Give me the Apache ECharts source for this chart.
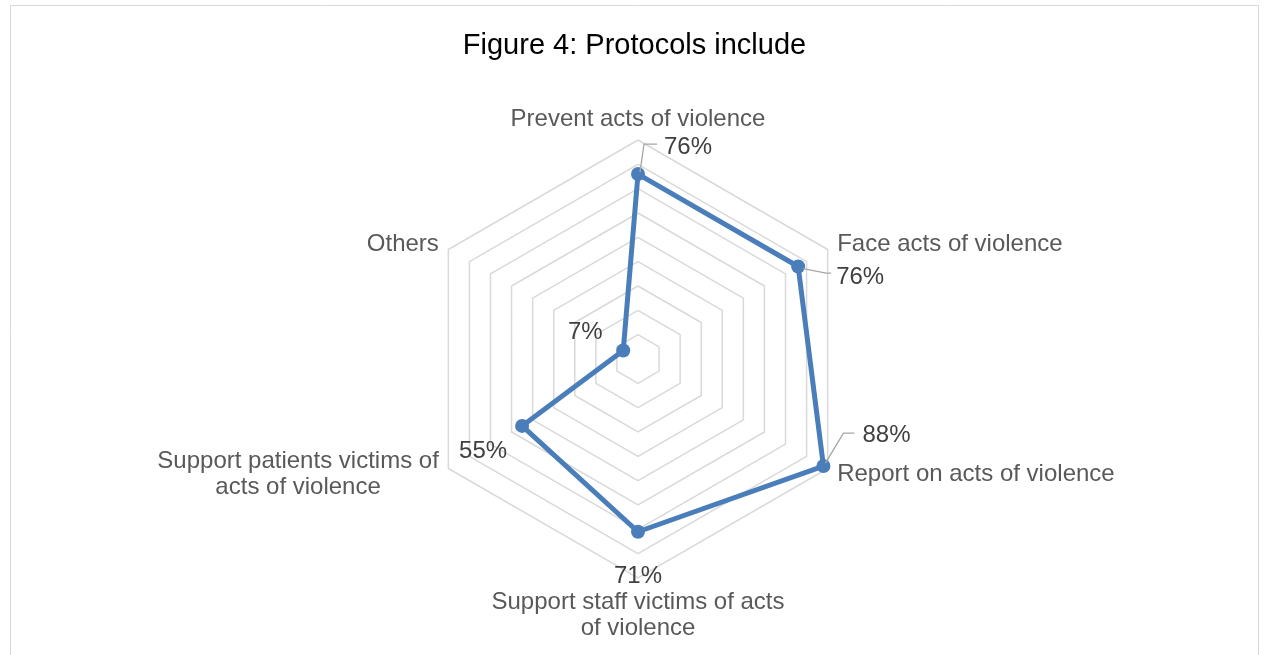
<!DOCTYPE html>
<html>
<head>
<meta charset="utf-8">
<script src="https://cdn.jsdelivr.net/npm/echarts@6/dist/echarts.min.js"></script>
<style>
  html, body { margin: 0; padding: 0; background: #ffffff; }
  #chart { width: 1269px; height: 655px; }
</style>
</head>
<body>
<div id="chart"></div>
<script>
// Categories listed clockwise from the top spoke
const categories = [
  'Prevent acts of violence',
  'Face acts of violence',
  'Report on acts of violence',
  'Support staff victims of acts\nof violence',
  'Support patients victims of\nacts of violence',
  'Others'
];
// Share of protocols (%) that include each item
const values = [76, 76, 88, 71, 55, 7];
const valueLabels = ['76%', '76%', '88%', '71%', '55%', '7%'];
const axisMax = 90;
const ringCount = 9;
const titleText = 'Figure 4: Protocols include';

const FONT = '"Liberation Sans", Arial, Helvetica, sans-serif';

// ECharts lays radar indicators out counter-clockwise, so keep the first one
// on top and reverse the rest to read clockwise.
const order = [0].concat(categories.map((_, i) => i).slice(1).reverse());

// Value-label placement relative to its marker: offset, alignment, leader path
const labelStyle = [
  { dx: 26, dy: -27, align: 'left',   leader: [[2, -2], [6, -30], [19, -30]] },
  { dx: 38, dy: 11,  align: 'left',   leader: [[5, 2], [28, 6.5], [33, 6.5]] },
  { dx: 39, dy: -31, align: 'left',   leader: [[2, -3], [20, -33], [31, -33]] },
  { dx: 0,  dy: 45,  align: 'center', leader: null },
  { dx: -39, dy: 25, align: 'center', leader: null },
  { dx: -38, dy: -18, align: 'center', leader: null }
];

const chart = echarts.init(document.getElementById('chart'), null, { renderer: 'canvas' });

chart.setOption({
  animation: false,
  backgroundColor: '#ffffff',
  title: {
    text: titleText,
    left: 'center',
    top: 31,
    padding: 0,
    textStyle: { color: '#000000', fontSize: 29, fontWeight: 'normal', fontFamily: FONT }
  },
  radar: {
    center: [638, 359],
    radius: 219,
    startAngle: 90,
    splitNumber: ringCount,
    shape: 'polygon',
    nameGap: 11,
    indicator: order.map(i => ({ name: categories[i], min: 0, max: axisMax })),
    axisName: {
      color: '#595959',
      fontSize: 24,
      fontFamily: FONT,
      lineHeight: 26,
      // single-line top name sits a little closer to its vertex
      formatter: (name, ind) => {
        const key = name === categories[0] ? 't' : 'c';
        return name.split('\n').map(s => '{' + key + '|' + s + '}').join('\n');
      },
      rich: {
        c: { align: 'center', color: '#595959', fontSize: 24, fontFamily: FONT, lineHeight: 26 },
        t: { align: 'center', color: '#595959', fontSize: 24, fontFamily: FONT, lineHeight: 20 }
      }
    },
    splitLine: { lineStyle: { color: '#d9d9d9', width: 1.5 } },
    splitArea: { show: false },
    axisLine: { show: false },
    axisTick: { show: false },
    axisLabel: { show: false }
  },
  series: [{
    type: 'radar',
    symbol: 'circle',
    symbolSize: 14,
    lineStyle: { color: '#4a7ebb', width: 5 },
    itemStyle: { color: '#4a7ebb' },
    data: [{ value: order.map(i => values[i]), name: 'Protocols include' }]
  }]
});

// Value labels and leader lines, anchored to the markers via the radar's own scale
const radarCS = chart.getModel().getComponent('radar', 0).coordinateSystem;
const graphics = [{
  type: 'rect',
  silent: true,
  shape: { x: 10.5, y: 5.5, width: 1248, height: 720 },
  style: { fill: 'none', stroke: '#d9d9d9', lineWidth: 1 },
  z: -10
}];

categories.forEach((_, i) => {
  const pos = order.indexOf(i);
  const p = radarCS.dataToPoint(values[i], pos);
  const ls = labelStyle[i];
  if (ls.leader) {
    graphics.push({
      type: 'polyline',
      silent: true,
      shape: { points: ls.leader.map(o => [p[0] + o[0], p[1] + o[1]]) },
      style: { stroke: '#a6a6a6', lineWidth: 1.3, fill: null },
      z: 5
    });
  }
  graphics.push({
    type: 'text',
    silent: true,
    x: p[0] + ls.dx,
    y: p[1] + ls.dy,
    style: {
      text: valueLabels[i],
      fill: '#404040',
      font: '24px ' + FONT,
      align: ls.align,
      verticalAlign: 'middle',
      textAlign: ls.align,
      textVerticalAlign: 'middle'
    },
    z: 20
  });
});

chart.setOption({ graphic: graphics });
</script>
</body>
</html>
